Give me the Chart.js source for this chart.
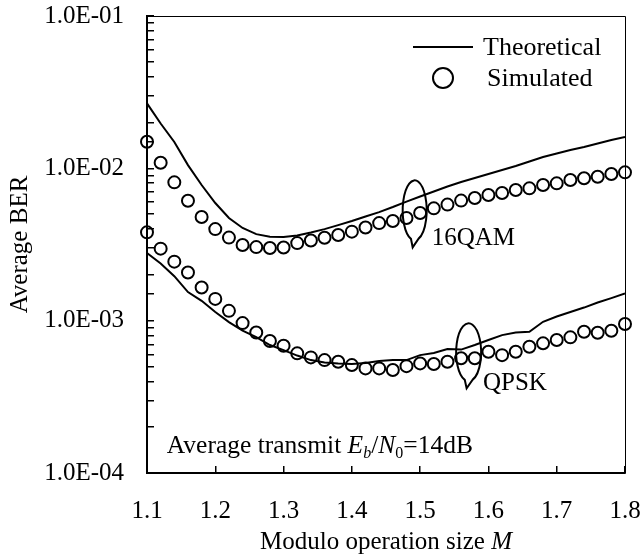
<!DOCTYPE html>
<html>
<head>
<meta charset="utf-8">
<script src="https://cdn.jsdelivr.net/npm/chart.js@4.4.1/dist/chart.umd.min.js"></script>
<style>
  html,body{margin:0;padding:0;background:#fff}
  canvas{display:block}
</style>
</head>
<body>
<canvas id="berChart" width="642" height="556"></canvas>
<script>
// modulo operation size M (x values of every series)
const sizeM = [1.10,1.12,1.14,1.16,1.18,1.20,1.22,1.24,1.26,1.28,1.30,1.32,1.34,1.36,1.38,1.40,1.42,1.44,
               1.46,1.48,1.50,1.52,1.54,1.56,1.58,1.60,1.62,1.64,1.66,1.68,1.70,1.72,1.74,1.76,1.78,1.80];

// average BER
const qam16Theory = [0.0267,0.0197,0.0149,0.0105,0.00777,0.00592,0.00472,0.00406,0.00370,0.00356,0.00354,0.00362,
                     0.00379,0.00399,0.00424,0.00451,0.00483,0.00516,0.00557,0.00605,0.00653,0.00704,0.00760,0.00813,
                     0.00863,0.00918,0.00975,0.01035,0.01108,0.01186,0.01251,0.01319,0.01380,0.01455,0.01534,0.01605];
const qam16Sim    = [0.01495,0.01088,0.00809,0.00613,0.00479,0.00399,0.00351,0.00314,0.00304,0.00300,0.00302,0.00323,
                     0.00336,0.00350,0.00365,0.00384,0.00409,0.00437,0.00451,0.00472,0.00509,0.00546,0.00578,0.00614,
                     0.00638,0.00668,0.00688,0.00720,0.00739,0.00777,0.00797,0.00838,0.00860,0.00881,0.00918,0.00941];
const qpskTheory  = [0.00278,0.00237,0.00196,0.00154,0.00135,0.00114,0.000979,0.000861,0.000781,0.000692,0.000641,0.000590,
                     0.000551,0.000531,0.000523,0.000519,0.000527,0.000543,0.000551,0.000551,0.000594,0.000613,0.000651,0.000646,
                     0.000692,0.000746,0.000804,0.000836,0.000845,0.000983,0.001064,0.001139,0.001219,0.001315,0.001407,0.001510];
const qpskSim     = [0.00380,0.00297,0.00244,0.00207,0.00165,0.00139,0.00116,0.000964,0.000836,0.000735,0.000684,0.000610,
                     0.000574,0.000551,0.000537,0.000511,0.000486,0.000486,0.000474,0.000503,0.000524,0.000519,0.000537,0.000566,
                     0.000566,0.000625,0.000594,0.000625,0.000674,0.000710,0.000746,0.000777,0.000845,0.000833,0.000858,0.000950];

const xTickLabels = ["1.1","1.2","1.3","1.4","1.5","1.6","1.7","1.8"];
const yDecades = [1e-4, 1e-3, 1e-2, 1e-1];
const yTickLabels = ["1.0E-04","1.0E-03","1.0E-02","1.0E-01"];

// where the curve labels sit (data coordinates)
const qam16Loop = {m: 1.492, ber: 5.3e-3};
const qpskLoop  = {m: 1.571, ber: 6.2e-4};
const qam16Text = {m: 1.517, ber: 3.13e-3};
const qpskText  = {m: 1.592, ber: 3.5e-4};
const noteText  = {m: 1.129, ber: 1.35e-4};

const SERIF = '"Liberation Serif","Times New Roman",serif';

function pts(ys){ return sizeM.map((m,i)=>({x:m, y:ys[i]})); }

function richText(ctx, x, y, parts){
  for(const p of parts){
    ctx.font = p.font;
    ctx.fillText(p.t, x, y + (p.dy||0));
    x += ctx.measureText(p.t).width;
  }
}
function richWidth(ctx, parts){
  let w=0;
  for(const p of parts){ ctx.font=p.font; w+=ctx.measureText(p.t).width; }
  return w;
}
function loop(ctx, cx, cy, rx, ry){
  ctx.beginPath();
  ctx.ellipse(cx, cy, rx, ry, 0, 0.6*Math.PI, 2.4*Math.PI);
  ctx.lineTo(cx-2, cy+ry+7);
  ctx.closePath();
  ctx.stroke();
}

const overlay = {
  id: "overlay",
  afterDatasetsDraw(chart){
    const {ctx, chartArea:a, scales:{x, y}} = chart;
    ctx.save();
    ctx.strokeStyle="#000"; ctx.fillStyle="#000";
    ctx.lineWidth=1;
    ctx.beginPath();
    ctx.moveTo(a.left, a.top+0.5); ctx.lineTo(a.right+0.5, a.top+0.5); ctx.lineTo(a.right+0.5, a.bottom);
    ctx.stroke();

    // legend
    ctx.lineWidth=2;
    ctx.beginPath(); ctx.moveTo(a.right-212, a.top+31); ctx.lineTo(a.right-152, a.top+31); ctx.stroke();
    ctx.beginPath(); ctx.arc(a.right-182, a.top+62, 10, 0, Math.PI*2); ctx.stroke();
    ctx.font = "26px "+SERIF; ctx.textBaseline="alphabetic"; ctx.textAlign="left";
    ctx.fillText("Theoretical", a.right-142, a.top+39);
    ctx.fillText("Simulated", a.right-138, a.top+70);

    // curve group loops + labels
    ctx.lineWidth=2;
    loop(ctx, x.getPixelForValue(qam16Loop.m), y.getPixelForValue(qam16Loop.ber), 12, 30);
    loop(ctx, x.getPixelForValue(qpskLoop.m), y.getPixelForValue(qpskLoop.ber), 12.5, 29);
    ctx.font = "25px "+SERIF;
    ctx.fillText("16QAM", x.getPixelForValue(qam16Text.m), y.getPixelForValue(qam16Text.ber));
    ctx.fillText("QPSK", x.getPixelForValue(qpskText.m), y.getPixelForValue(qpskText.ber));

    // condition note
    const n = "25.5px "+SERIF, ni = "italic 25.5px "+SERIF, s = "16px "+SERIF, si = "italic 16px "+SERIF;
    richText(ctx, x.getPixelForValue(noteText.m), y.getPixelForValue(noteText.ber), [
      {t:"Average transmit ", font:n}, {t:"E", font:ni}, {t:"b", font:si, dy:5},
      {t:"/", font:n}, {t:"N", font:ni}, {t:"0", font:s, dy:5}, {t:"=14dB", font:n}
    ]);

    // x axis title
    const tn = "25px "+SERIF, ti = "italic 25px "+SERIF;
    const title = [{t:"Modulo operation size ", font:tn}, {t:"M", font:ti}];
    const w = richWidth(ctx, title);
    richText(ctx, (a.left+a.right)/2 - w/2, 549, title);
    ctx.restore();
  }
};

new Chart(document.getElementById("berChart").getContext("2d"), {
  type: "scatter",
  data: {
    datasets: [
      { label:"16QAM theoretical", data: pts(qam16Theory), showLine:true, borderColor:"#000", borderWidth:2, pointRadius:0, tension:0 },
      { label:"QPSK theoretical", data: pts(qpskTheory), showLine:true, borderColor:"#000", borderWidth:2, pointRadius:0, tension:0 },
      { label:"16QAM simulated", data: pts(qam16Sim), showLine:false, borderColor:"#000", backgroundColor:"rgba(0,0,0,0)", borderWidth:2, pointRadius:6, pointStyle:"circle", clip:false },
      { label:"QPSK simulated", data: pts(qpskSim), showLine:false, borderColor:"#000", backgroundColor:"rgba(0,0,0,0)", borderWidth:2, pointRadius:6, pointStyle:"circle", clip:false }
    ]
  },
  options: {
    responsive:false,
    animation:false,
    devicePixelRatio:1,
    layout:{ padding:{ top:16, right:17, left:0, bottom:0 } },
    plugins:{ legend:{display:false}, tooltip:{enabled:false} },
    scales:{
      x:{
        type:"linear", min:1.1, max:1.8,
        afterFit(s){ s.height = 83; s.paddingLeft = 0; s.paddingRight = 0; },
        ticks:{ stepSize:0.1, color:"#000", font:{family:SERIF, size:25}, padding:30, maxRotation:0,
                callback:(v,i)=>xTickLabels[i] },
        grid:{ drawOnChartArea:false, drawTicks:true, tickLength:-7, color:"#000", lineWidth:1.5 },
        border:{ display:true, color:"#000", width:2 }
      },
      y:{
        type:"logarithmic", min:1e-4, max:1e-1,
        afterFit(s){ s.width = 147; s.paddingTop = 0; s.paddingBottom = 0; },
        title:{ display:true, text:"Average BER", color:"#000", font:{family:SERIF, size:25}, padding:{top:5, bottom:0} },
        ticks:{ autoSkip:false, color:"#000", font:{family:SERIF, size:25}, padding:30,
                callback:(v)=>{
                  const i = yDecades.findIndex(d=>Math.abs(Math.log10(v)-Math.log10(d))<1e-6);
                  return i<0 ? "" : yTickLabels[i];
                } },
        grid:{ drawOnChartArea:false, drawTicks:true, tickLength:-7, color:"#000", lineWidth:1.5 },
        border:{ display:true, color:"#000", width:2 }
      }
    }
  },
  plugins:[overlay]
});
</script>
</body>
</html>
